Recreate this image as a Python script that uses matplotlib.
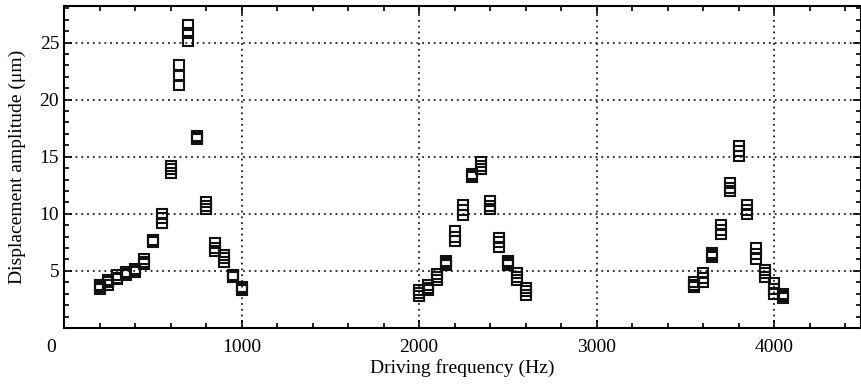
import matplotlib
matplotlib.use('Agg')
import matplotlib.pyplot as plt
from matplotlib.ticker import MultipleLocator
from matplotlib.transforms import ScaledTranslation

plt.rcParams['font.family'] = ['Liberation Serif', 'DejaVu Serif']
plt.rcParams['mathtext.fontset'] = 'stix'

# three repeated measurements for each driving frequency
freq_1 = [200, 250, 300, 350, 400, 450, 500, 550, 600, 650, 700, 750, 800, 850, 900, 950, 1000]
amp_1a = [3.4, 3.8, 4.3, 4.65, 4.9, 5.6, 7.5, 9.2, 13.6, 21.3, 25.1, 16.55, 10.4, 6.7, 5.8, 4.5, 3.3]
amp_1b = [3.6, 4.0, 4.4, 4.8, 5.0, 5.8, 7.6, 9.6, 13.9, 22.1, 25.8, 16.7, 10.7, 7.0, 6.1, 4.55, 3.45]
amp_1c = [3.8, 4.2, 4.6, 4.9, 5.15, 6.0, 7.7, 10.0, 14.2, 23.0, 26.5, 16.85, 11.0, 7.45, 6.4, 4.6, 3.6]

freq_2 = [2000, 2050, 2100, 2150, 2200, 2250, 2300, 2350, 2400, 2450, 2500, 2550, 2600]
amp_2a = [2.8, 3.3, 4.2, 5.5, 7.65, 9.9, 13.2, 13.9, 10.4, 7.1, 5.5, 4.2, 2.9]
amp_2b = [3.05, 3.5, 4.45, 5.7, 8.0, 10.3, 13.3, 14.2, 10.7, 7.5, 5.7, 4.5, 3.2]
amp_2c = [3.3, 3.75, 4.7, 5.9, 8.5, 10.8, 13.5, 14.5, 11.1, 7.9, 5.9, 4.8, 3.5]

freq_3 = [3550, 3600, 3650, 3700, 3750, 3800, 3850, 3900, 3950, 4000, 4050]
amp_3a = [3.6, 4.05, 6.25, 8.25, 12.0, 15.1, 9.95, 6.0, 4.5, 3.0, 2.65]
amp_3b = [3.8, 4.4, 6.4, 8.6, 12.3, 15.5, 10.3, 6.5, 4.8, 3.4, 2.8]
amp_3c = [4.05, 4.8, 6.55, 9.05, 12.7, 15.9, 10.75, 7.0, 5.1, 3.9, 3.0]


def paint_amplitude():
    fig = plt.figure(figsize=(8.62, 3.86), dpi=100)
    ax = fig.add_axes([64 / 862, 1 - 328 / 386, 797 / 862, 322 / 386])

    style = dict(marker='s', markersize=7.6, markerfacecolor='none',
                 markeredgecolor='#111111', markeredgewidth=1.5, linestyle='none', zorder=3)
    for f, runs in [(freq_1, [amp_1a, amp_1b, amp_1c]),
                    (freq_2, [amp_2a, amp_2b, amp_2c]),
                    (freq_3, [amp_3a, amp_3b, amp_3c])]:
        for r in runs:
            ax.plot(f, r, **style)

    ax.set_xlim(0, 4490)
    ax.set_ylim(0, 28.2)
    ax.set_xticks([0, 1000, 2000, 3000, 4000])
    ax.set_yticks([5, 10, 15, 20, 25])
    ax.xaxis.set_minor_locator(MultipleLocator(200))
    ax.yaxis.set_minor_locator(MultipleLocator(1))
    ax.tick_params(which='both', direction='in', top=True, right=True, labelsize=14, width=1.2)
    ax.tick_params(which='major', length=6)
    ax.tick_params(which='minor', length=3.5)
    ax.tick_params(axis='x', pad=8)
    for s in ax.spines.values():
        s.set_linewidth(1.5)

    ax.grid(True, which='major', color='#222222', linestyle=(0, (1, 2.2)), linewidth=1.3)

    # the "0" label sits a little left of the axis
    lbl = ax.xaxis.get_major_ticks()[0].label1
    lbl.set_transform(lbl.get_transform() + ScaledTranslation(-0.13, 0, fig.dpi_scale_trans))

    ax.set_xlabel("Driving frequency (Hz)", fontsize=14, labelpad=2)
    ax.set_ylabel("Displacement amplitude (μm)", fontsize=14, labelpad=10)
    fig.savefig('out.png', dpi=100)


paint_amplitude()
